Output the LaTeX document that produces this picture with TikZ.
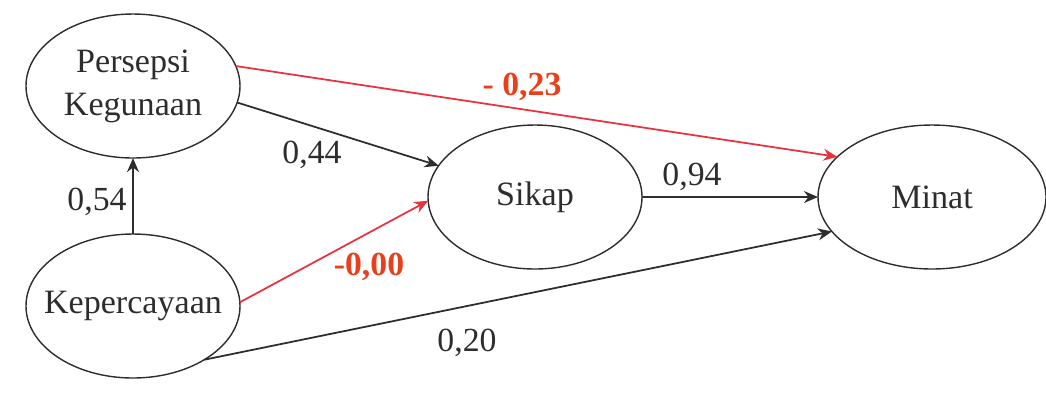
\documentclass[tikz,border=0pt]{standalone}
\usepackage{fontspec}
\setmainfont{Liberation Serif}
\usetikzlibrary{arrows.meta,positioning,shapes.geometric}
\definecolor{ink}{RGB}{45,45,45}
\definecolor{negline}{RGB}{232,50,62}
\definecolor{negtext}{RGB}{232,64,26}

\begin{document}
\begin{tikzpicture}[>={Stealth[length=4pt,width=3.4pt]},
  var/.style={draw=ink, ellipse, minimum width=2.14cm, minimum height=1.44cm, inner sep=0pt, outer sep=0pt,
    align=center, text=ink, font=\fontsize{9.7}{12.2}\selectfont},
  lnk/.style={->, draw=ink, line width=0.5pt},
  lnkneg/.style={->, draw=negline, line width=0.5pt},
  coef/.style={text=ink, font=\fontsize{9.6}{11}\selectfont},
  coefneg/.style={text=negtext, font=\fontsize{9.6}{11}\selectfont\bfseries}]
  \useasboundingbox (0,0) rectangle (10.46,4.03);
  \node[var] (pk) at (1.33,3.17) {Persepsi\\Kegunaan};
  \node[var] (kp) at (1.33,0.97) {\makebox[1.2cm][c]{Kepercayaan}};
  \node[var] (sk) at (5.35,2.06) {Sikap};
  \node[var, minimum width=2.28cm] (mn) at (9.32,2.06) {Minat};

  \draw[lnk] (kp.north) -- (pk.south);
  \draw[lnk] (pk.-9) -- (sk.162);
  \draw[lnkneg] (pk.11) -- (mn.157);
  \draw[lnkneg] (kp.2) -- (sk.182);
  \draw[lnk] (sk.east) -- (mn.west);
  \draw[lnk] (kp.-37) -- (mn.199);

  \node[coef] (c54) at (0.97,2.01) {0,54};
  \node[coef] (c44) at (3.12,2.48) {0,44};
  \node[coefneg] (c23) at (5.22,3.16) {- 0,23};
  \node[coefneg] (c00) at (3.69,1.36) {-0,00};
  \node[coef] (c94) at (6.92,2.26) {0,94};
  \node[coef] (c20) at (4.67,0.60) {0,20};
\end{tikzpicture}
\end{document}
